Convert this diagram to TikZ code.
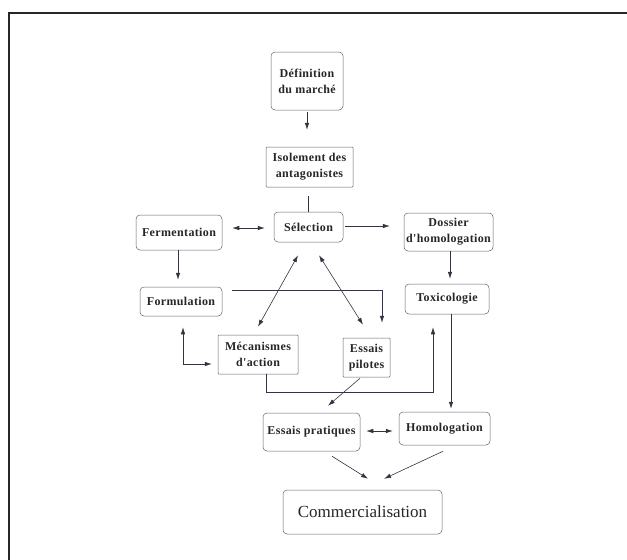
\documentclass[tikz,border=0pt]{standalone}
\usepackage{fontspec}
\setmainfont{Liberation Serif}
\newfontfamily\lblfont[LetterSpace=3]{Liberation Serif}
\usetikzlibrary{arrows.meta}
\definecolor{boxline}{RGB}{95,95,110}
\definecolor{conline}{RGB}{55,50,65}
\tikzset{
  bx/.style={draw=boxline, line width=0.5pt, align=center, inner sep=0pt,
    font=\lblfont\bfseries\fontsize{12}{16}\selectfont, text=black!85},
  rbx/.style={bx, rounded corners=4pt},
  sbx/.style={bx, rounded corners=0.8pt},
  con/.style={draw=conline, line width=0.6pt},
  arr/.style={con, -{Latex[length=7pt,width=4.5pt]}},
  darr/.style={con, {Latex[length=7pt,width=4.5pt]}-{Latex[length=7pt,width=4.5pt]}},
}
\begin{document}
\begin{tikzpicture}[x=1pt,y=-1pt]
\useasboundingbox (0,0) rectangle (627,560);
% frame (top and left edges)
\draw[line width=2pt, black!85] (9,560) -- (9,13) -- (627,13);
% nodes
\node[rbx, minimum width=72pt, minimum height=58pt] (def) at (307,81) {Définition\\du marché};
\node[sbx, minimum width=87pt, minimum height=40pt] (iso) at (309.5,167) {Isolement des\\antagonistes};
\node[rbx, minimum width=69pt, minimum height=30pt] (sel) at (308.5,227) {Sélection};
\node[rbx, minimum width=86pt, minimum height=35pt] (fer) at (179,232.5) {Fermentation};
\node[rbx, minimum width=89pt, minimum height=38pt] (dos) at (448.5,232) {Dossier\\d'homologation};
\node[rbx, minimum width=82pt, minimum height=29pt] (form) at (181,301.5) {Formulation};
\node[rbx, minimum width=84pt, minimum height=30pt] (tox) at (447,299) {Toxicologie};
\node[sbx, minimum width=80pt, minimum height=39pt] (mec) at (258,354.5) {Mécanismes\\d'action};
\node[sbx, minimum width=47pt, minimum height=39pt] (pil) at (366.5,357.5) {Essais\\pilotes};
\node[rbx, minimum width=97pt, minimum height=38pt] (pra) at (311.5,432) {Essais pratiques};
\node[rbx, minimum width=91pt, minimum height=33pt] (hom) at (444.5,428.5) {Homologation};
\node[rbx, minimum width=159pt, minimum height=44pt,
  font=\fontsize{17}{20}\selectfont] (com) at (362.5,512) {Commercialisation};
% connectors
\draw[arr, shorten >=17pt] ([yshift=-2pt]def.south) -- (def.south |- iso.north);
\draw[con, shorten <=9pt] (sel.north |- iso.south) -- (sel.north);
\draw[darr, shorten <=10pt, shorten >=9pt] ([yshift=-1pt]sel.west -| fer.east) -- ([yshift=-1pt]sel.west);
\draw[arr, shorten <=2pt, shorten >=14pt] ([yshift=1pt]sel.east) -- ([yshift=1pt]sel.east -| dos.west);
\draw[arr, shorten >=7pt] ([xshift=-1pt]fer.south) -- ([xshift=-1pt]fer.south |- form.north);
\draw[arr, shorten >=5pt] ([xshift=1.5pt]dos.south) -- ([xshift=1.5pt]dos.south |- tox.north);
\draw[arr] ([xshift=10pt,yshift=11.5pt]form.east) -| ([xshift=15.5pt,yshift=15pt]pil.north);
\draw[darr] ([xshift=-10.5pt,yshift=-13pt]sel.south) -- ([yshift=8pt]mec.north);
\draw[darr] ([xshift=10.5pt,yshift=-13pt]sel.south) -- ([xshift=-3.5pt,yshift=13pt]pil.north);
\draw[darr] ([xshift=2pt,yshift=-11pt]form.south) |- ([xshift=-6pt,yshift=-9.5pt]mec.west);
\draw[arr] ([xshift=8pt]mec.south) -- ++(0,18) -| ([xshift=-14pt,yshift=-13pt]tox.south);
\draw[arr, shorten >=3pt] ([xshift=4pt]tox.south) -- ([xshift=4pt]tox.south |- hom.north);
\draw[arr] ([xshift=-6.5pt,yshift=-1pt]pil.south) -- ([xshift=16.5pt,yshift=7pt]pra.north);
\draw[darr] ([xshift=6pt,yshift=1pt]pra.east) -- ([xshift=-6pt,yshift=-2.5pt]hom.west);
\draw[arr] ([xshift=20.5pt,yshift=-5pt]pra.south) -- ([xshift=5.5pt,yshift=11pt]com.north);
\draw[arr] ([xshift=-1.5pt,yshift=-6pt]hom.south) -- ([xshift=21.5pt,yshift=11pt]com.north);
\end{tikzpicture}
\end{document}
